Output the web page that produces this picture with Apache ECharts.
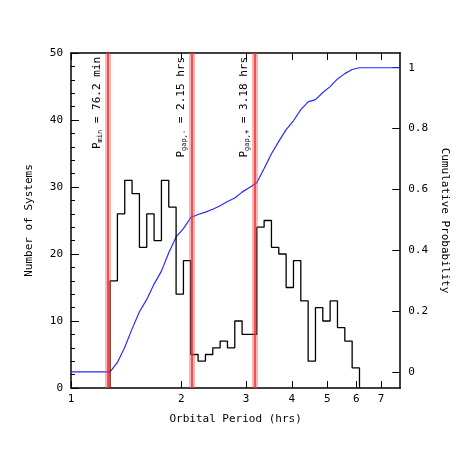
<!DOCTYPE html>
<html>
<head>
<meta charset="utf-8">
<script src="https://cdn.jsdelivr.net/npm/echarts@6/dist/echarts.min.js"></script>
<style>html,body{margin:0;padding:0;background:#fff}#c{width:458px;height:458px}</style>
</head>
<body>
<div id="c"></div>
<script>
// histogram: bins of 0.02 dex starting at Pmin
const binStart = 1.278
const binDex = 0.02
const counts = [16, 26, 31, 29, 21, 26, 22, 31, 27, 14, 19, 5, 4, 5, 6, 7, 6, 10, 8, 8,
  24, 25, 21, 20, 15, 19, 13, 4, 12, 10, 13, 9, 7, 3]
const xTicks = [1, 2, 3, 4, 5, 6, 7]
const xMax = 7.9
const periodLines = [1.27, 2.15, 3.18]
const periodLabels = [
  ['min', '76.2 min'],
  ['gap,-', '2.15 hrs'],
  ['gap,+', '3.18 hrs']
]
const rightTicks = [0, 0.2, 0.4, 0.6, 0.8, 1]

const lg = Math.log10
const font = 'DejaVu Sans Mono'
const x0 = lg(binStart)
let hist = [[x0, 0]]
let cum = [[0, 0], [x0, 0]]
const total = counts.reduce((a, b) => a + b, 0)
let run = 0
counts.forEach((c, k) => {
  hist.push([x0 + k * binDex, c], [x0 + (k + 1) * binDex, c])
  run += c
  cum.push([x0 + (k + 1) * binDex, run / total])
})
hist.push([x0 + counts.length * binDex, 0])
cum.push([lg(xMax), 1])

const chart = echarts.init(document.getElementById('c'))
const axisLine = { show: true, onZero: false, lineStyle: { color: '#000', width: 1.5 } }
chart.setOption({
  animation: false,
  textStyle: { fontFamily: font },
  grid: { left: 71, right: 53, top: 53, bottom: 70 },
  xAxis: [{
    type: 'value', min: 0, max: lg(xMax),
    name: 'Orbital Period (hrs)', nameLocation: 'middle', nameGap: 26,
    nameTextStyle: { fontSize: 11, color: '#000' },
    axisLine,
    splitLine: { show: false },
    axisTick: { inside: true, length: 7, customValues: xTicks.map(lg), lineStyle: { color: '#000' } },
    axisLabel: { customValues: xTicks.map(lg), formatter: v => String(Math.round(Math.pow(10, v))), color: '#000', fontSize: 11, margin: 6 }
  }, {
    type: 'value', min: 0, max: lg(xMax), position: 'top',
    axisLine, splitLine: { show: false },
    axisTick: { inside: true, length: 7, customValues: xTicks.map(lg), lineStyle: { color: '#000' } },
    axisLabel: { show: false }
  }],
  yAxis: [{
    type: 'value', min: 0, max: 50, interval: 10,
    name: 'Number of Systems', nameLocation: 'middle', nameGap: 36,
    nameTextStyle: { fontSize: 11, color: '#000' },
    axisLine, splitLine: { show: false },
    axisTick: { inside: true, length: 8, lineStyle: { color: '#000' } },
    minorTick: { show: true, splitNumber: 5, length: 4, lineStyle: { color: '#000' } },
    axisLabel: { color: '#000', fontSize: 11 }
  }, {
    type: 'value', min: -2.4 / 45.4, max: 47.6 / 45.4, position: 'right',
    name: 'Cumulative Probability', nameLocation: 'middle', nameGap: 30, nameRotate: -90,
    nameTextStyle: { fontSize: 11, color: '#000' },
    axisLine, splitLine: { show: false },
    axisTick: { inside: true, length: 8, customValues: rightTicks, lineStyle: { color: '#000' } },
    axisLabel: { customValues: rightTicks, formatter: v => String(+v.toFixed(1)), color: '#000', fontSize: 11 }
  }],
  series: [{
    type: 'line', data: hist, symbol: 'none', z: 3,
    lineStyle: { color: '#000', width: 1.3 },
    markLine: {
      silent: true, symbol: 'none',
      lineStyle: { color: 'rgba(255,70,70,0.4)', width: 6, type: 'solid' },
      label: {
        position: 'insideEndTop', distance: 4, color: '#000', fontSize: 11,
        formatter: p => '{b|P}{s|' + periodLabels[p.dataIndex][0] + '}{b| = ' + periodLabels[p.dataIndex][1] + '}',
        rich: { b: { fontSize: 11, fontFamily: font }, s: { fontSize: 7, fontFamily: font, padding: [6, 0, 0, 0] } }
      },
      data: periodLines.map(v => ({ xAxis: lg(v) }))
    }
  }, {
    type: 'line', data: periodLines.map(v => [lg(v), 0]), symbol: 'none', lineStyle: { width: 0 },
    markLine: {
      silent: true, symbol: 'none', label: { show: false },
      lineStyle: { color: '#e53030', width: 1.5, type: 'solid' },
      data: periodLines.map(v => ({ xAxis: lg(v) }))
    }
  }, {
    type: 'line', yAxisIndex: 1, data: cum, symbol: 'none', z: 2,
    lineStyle: { color: '#2a2aff', width: 1.2 }
  }]
})
</script>
</body>
</html>
